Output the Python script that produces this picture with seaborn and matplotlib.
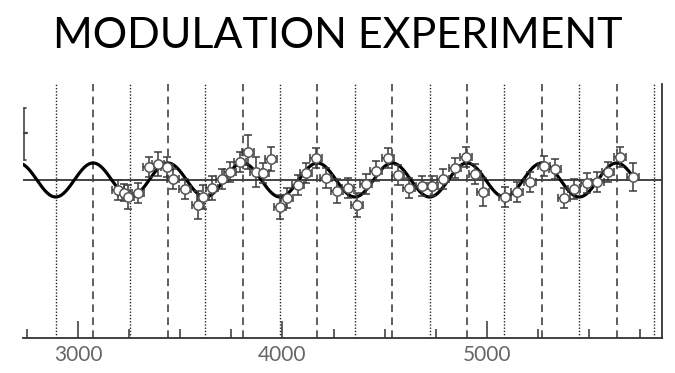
import numpy as np
import pandas as pd
import matplotlib
matplotlib.use("Agg")
import matplotlib.pyplot as plt
import seaborn as sns

sns.set_theme(style="white")
plt.rcParams["font.family"] = ["Lato", "DejaVu Sans"]

# Measured points: position, relative signal, and their uncertainties
x_pos = [3196, 3225, 3245, 3294, 3348, 3392, 3436, 3465, 3524, 3587,
         3612, 3656, 3705, 3744, 3793, 3832, 3871, 3906, 3945, 3989,
         4023, 4077, 4116, 4165, 4214, 4268, 4322, 4366, 4410, 4459,
         4517, 4566, 4620, 4684, 4733, 4787, 4845, 4899, 4943, 4982,
         5090, 5149, 5213, 5281, 5335, 5379, 5428, 5492, 5541, 5594,
         5653, 5717]
signal = [-0.59, -0.76, -1.00, -0.76, 0.76, 0.94, 0.76, 0.06, -0.53, -1.47,
          -1.00, -0.47, 0.06, 0.47, 1.06, 1.65, 0.47, 0.41, 1.24, -1.59,
          -1.06, -0.29, 0.41, 1.29, 0.12, -0.65, -0.47, -1.47, -0.24, 0.53,
          1.29, 0.29, -0.47, -0.35, -0.35, 0.06, 0.71, 1.35, 0.35, -0.71,
          -1.00, -0.71, -0.12, 0.82, 0.65, -1.06, -0.53, -0.18, -0.12, 0.47,
          1.35, 0.18]
signal_err = [0.6, 0.5, 0.7, 0.6, 0.6, 0.7, 0.6, 0.6, 0.6, 0.8,
              0.7, 0.7, 0.6, 0.6, 0.6, 1.0, 0.9, 0.6, 0.7, 0.7,
              0.6, 0.6, 0.6, 0.6, 0.6, 0.7, 0.6, 0.7, 0.6, 0.6,
              0.6, 0.6, 0.6, 0.6, 0.6, 0.6, 0.6, 0.6, 0.6, 0.8,
              0.6, 0.6, 0.6, 0.6, 0.6, 0.6, 0.6, 0.6, 0.6, 0.6,
              0.6, 0.8]
x_err = 30

# Fitted modulation model
amplitude = 1.0
period = 366.0
peak_phase = 3073.0
model_start, model_end = 2730, 5717

major_ticks = [3000, 4000, 5000]
tick_labels = ["3000", "4000", "5000"]

fig = plt.figure(figsize=(6.75, 3.73), dpi=100)
ax = fig.add_axes([0.034, 0.094, 0.947, 0.681])

xmin, xmax = 2730, 5858
ax.set_xlim(xmin, xmax)
ax.set_ylim(-9.29, 5.65)

# Peak (dashed) and trough (dotted) markers of the model
peaks = peak_phase + period * np.arange(0, 8)
troughs = peak_phase - period / 2 + period * np.arange(0, 9)
for p in peaks:
    ax.axvline(p, color="#333333", lw=1.1, ls=(0, (5, 3.5)), zorder=1)
for t in troughs:
    ax.axvline(t, color="#222222", lw=1.0, ls=(0, (1.0, 1.3)), zorder=1)

ax.axhline(0, color="#444444", lw=1.4, zorder=2)

xm = np.linspace(model_start, model_end, 1200)
model = pd.DataFrame({"x": xm,
                      "y": amplitude * np.cos(2 * np.pi * (xm - peak_phase) / period)})
sns.lineplot(data=model, x="x", y="y", ax=ax, color="black", lw=2.3, zorder=4)

pts = pd.DataFrame({"x": x_pos, "y": signal, "e": signal_err})
ax.errorbar(pts["x"], pts["y"], yerr=pts["e"], xerr=x_err, fmt="none",
            ecolor="#3a3a3a", elinewidth=1.1, capsize=3, capthick=1.1, zorder=5)
sns.scatterplot(data=pts, x="x", y="y", ax=ax, marker="o", s=45,
                facecolor="white", edgecolor="#555555", linewidth=1.1, zorder=6)

# Scale bracket on the left edge
bkw = dict(transform=ax.transAxes, color="#444444", clip_on=False)
ax.plot([0.0015, 0.0015], [0.70, 0.906], lw=1.2, **bkw)
ax.plot([0.0015, 0.0055], [0.906, 0.906], lw=1.2, **bkw)
ax.plot([0.0015, 0.0055], [0.70, 0.70], lw=1.2, **bkw)
ax.plot([0.0015, 0.0060], [0.807, 0.807], lw=1.6, **bkw)

for side in ["left", "top"]:
    ax.spines[side].set_visible(False)
for side in ["bottom", "right"]:
    ax.spines[side].set_visible(True)
    ax.spines[side].set_color("#333333")
    ax.spines[side].set_linewidth(1.3)

ax.set_xticks(major_ticks)
ax.set_xticklabels(tick_labels)
ax.set_xticks(np.arange(2750, 5851, 250), minor=True)
ax.tick_params(axis="x", which="major", direction="in", length=12, width=1.1,
               color="#333333", labelsize=15, labelcolor="#666666", pad=5,
               bottom=True)
ax.tick_params(axis="x", which="minor", direction="in", length=6.5, width=1.1,
               color="#333333", bottom=True)
ax.set_yticks([])
ax.set_xlabel("")
ax.set_ylabel("")

fig.text(0.5, 0.903, "MODULATION EXPERIMENT", ha="center", va="center",
         fontsize=31, color="black")

fig.savefig("out.png", dpi=100)
